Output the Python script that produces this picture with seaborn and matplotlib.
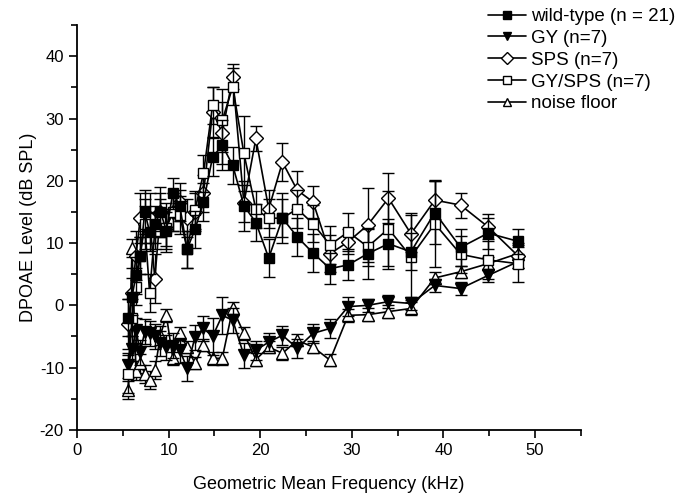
import matplotlib
matplotlib.use("Agg")
import matplotlib.pyplot as plt
import seaborn as sns
import numpy as np
from matplotlib.ticker import MultipleLocator

# Geometric mean frequencies (kHz)
freq = [5.61, 6.01, 6.44, 6.91, 7.40, 7.93, 8.50, 9.11, 9.76, 10.46, 11.22, 12.02,
        12.88, 13.81, 14.80, 15.86, 17.00, 18.22, 19.53, 20.93, 22.43, 24.04, 25.77,
        27.62, 29.60, 31.73, 34.00, 36.45, 39.06, 41.87, 44.87, 48.10]

wt = [-2.0, 1.4, 4.8, 8.0, 15.0, 11.8, 13.0, 15.0, 12.0, 18.0, 16.0, 9.0,
      12.2, 16.6, 23.8, 25.7, 22.5, 16.0, 13.3, 7.6, 14.0, 11.0, 8.4,
      5.9, 6.5, 8.3, 9.9, 8.6, 14.9, 9.3, 11.6, 10.3]
wt_err = [3, 3, 3, 3, 3.5, 3, 3, 3, 3, 2.5, 2.5, 3, 3, 3, 3, 4, 3, 4, 3, 3, 4, 3, 3,
          2.5, 2.5, 4, 4, 3, 5, 3, 2.5, 2]

gy = [-9.6, -7.0, -4.0, -7.5, -4.2, -4.5, -5.0, -6.1, -6.7, -6.5, -7.2, -10.1,
      -5.1, -3.7, -5.0, -1.6, -2.4, -8.0, -7.2, -5.9, -4.8, -6.9, -4.5,
      -3.7, -0.2, 0.0, 0.6, 0.3, 3.2, 2.7, 4.8, 7.0]
gy_err = [2, 2, 2, 2, 2, 2, 2, 2, 2, 2, 2, 2, 2, 2, 3, 3, 2, 2, 1.5, 1.5, 1.5, 1.5,
          1.5, 1.5, 1.5, 1, 1, 1, 1, 1, 1, 1]

sps = [-3.0, 2.0, 8.0, 14.0, 13.0, 14.0, 4.3, 15.0, 12.5, 15.0, 16.6, 14.0,
       15.0, 18.0, 31.1, 27.7, 36.7, 16.4, 26.8, 15.5, 23.0, 18.5, 16.6,
       8.3, 10.2, 12.9, 17.2, 11.5, 16.9, 16.1, 12.6, 8.0]
sps_err = [4, 4, 4, 4, 4, 4, 4, 4, 4, 3, 3, 3, 3, 3, 4, 5, 2, 3, 2, 3, 3, 3, 2.5,
           3, 2, 6, 4, 3, 3, 2, 2, 2]

gysps = [-11.0, -2.0, 3.0, 8.0, 13.0, 2.0, 12.0, 14.0, 12.5, 15.0, 14.5, 9.0,
         15.3, 21.2, 32.1, 29.7, 35.1, 24.4, 15.4, 14.0, 14.0, 15.5, 13.1,
         9.7, 11.8, 9.4, 12.3, 7.8, 13.1, 8.2, 7.3, 6.7]
gysps_err = [3, 3, 3, 3, 3, 3, 3, 3, 3, 3, 3, 3, 3, 3, 3, 5, 3, 6, 3, 3, 3, 3, 3,
             3, 3, 3, 6, 7, 7, 3, 3, 3]

noise = [-13.6, 9.2, -10.5, -9.3, -11.0, -12.0, -10.4, -4.8, -1.6, -8.5, -4.5, -6.7,
         -9.3, -6.4, -8.5, -8.5, -0.5, -4.5, -8.7, -6.7, -7.7, -5.6, -6.7,
         -8.8, -1.6, -1.5, -1.0, -0.5, 4.4, 5.4, 6.7, 8.3]
noise_err = [1.5] * 8 + [1.0] * 24

labels = ["wild-type (n = 21)", "GY (n=7)", "SPS (n=7)", "GY/SPS (n=7)", "noise floor"]

sns.set_style("ticks")
plt.rcParams["font.family"] = ["Liberation Sans", "DejaVu Sans"]
plt.rcParams["axes.unicode_minus"] = False
plt.rcParams["text.color"] = "black"
plt.rcParams["axes.labelcolor"] = "black"
plt.rcParams["xtick.color"] = "black"
plt.rcParams["ytick.color"] = "black"
plt.rcParams["axes.edgecolor"] = "black"

fig = plt.figure(figsize=(6.81, 4.93), dpi=100)
ax = fig.add_axes([0.113, 0.128, 0.740, 0.821])

series = [
    # values, errors, marker, face, size, label, zorder
    (noise, noise_err, "^", "white", 9, labels[4], 2),
    (gy, gy_err, "v", "black", 9, labels[1], 3),
    (sps, sps_err, "D", "white", 7.5, labels[2], 4),
    (gysps, gysps_err, "s", "white", 7, labels[3], 5),
    (wt, wt_err, "s", "black", 7, labels[0], 6),
]

for vals, errs, mk, face, ms, lab, z in series:
    ax.errorbar(freq, vals, yerr=errs, fmt="none", ecolor="black", elinewidth=1.0,
                capsize=4, capthick=1.0, zorder=z)
    sns.lineplot(x=freq, y=vals, ax=ax, color="black", marker=mk, markersize=ms,
                 markerfacecolor=face, markeredgecolor="black", markeredgewidth=1.0,
                 linewidth=1.2, label=lab, zorder=z + 0.5, errorbar=None)

h, l = ax.get_legend_handles_labels()
order = [l.index(x) for x in labels]
ax.get_legend().remove()
leg = fig.legend([h[i] for i in order], [l[i] for i in order], loc="upper right",
                 bbox_to_anchor=(1.017, 1.018), frameon=False, fontsize=13.5,
                 handlelength=2.0, handletextpad=0.3, labelspacing=0.25)
for lh in leg.legend_handles:
    lh.set_markersize(6)

ax.set_xlim(0, 55)
ax.set_ylim(-20, 45)
ax.xaxis.set_major_locator(MultipleLocator(10))
ax.xaxis.set_minor_locator(MultipleLocator(5))
ax.yaxis.set_major_locator(MultipleLocator(10))
ax.yaxis.set_minor_locator(MultipleLocator(5))
ax.set_yticks([-20, -10, 0, 10, 20, 30, 40])
ax.tick_params(which="major", length=6, width=1.2, labelsize=12, direction="out")
ax.tick_params(which="minor", length=4, width=1.2, direction="out")
for s in ["left", "bottom"]:
    ax.spines[s].set_linewidth(1.3)
sns.despine(ax=ax)

ax.set_xlabel("Geometric Mean Frequency (kHz)", fontsize=13, labelpad=13)
ax.set_ylabel("DPOAE Level (dB SPL)", fontsize=13, labelpad=2)

fig.savefig("out.png", dpi=100)
